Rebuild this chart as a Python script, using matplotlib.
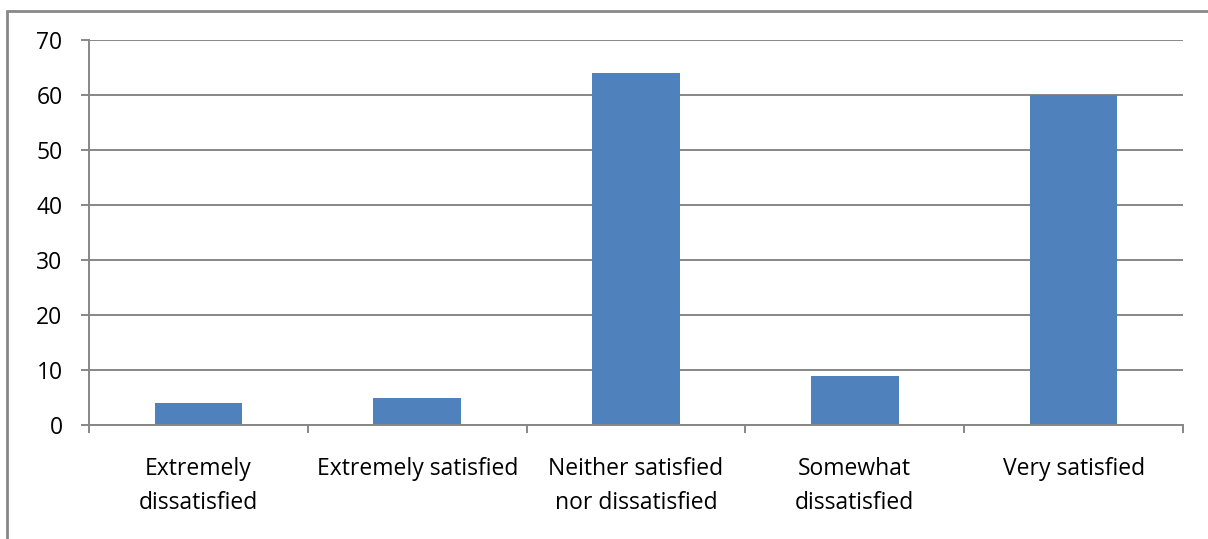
import matplotlib.pyplot as plt
from matplotlib.patches import Rectangle
from matplotlib.ticker import FixedLocator, NullFormatter

categories = ["Extremely\ndissatisfied", "Extremely satisfied",
              "Neither satisfied\nnor dissatisfied", "Somewhat\ndissatisfied",
              "Very satisfied"]
counts = [4, 5, 64, 9, 60]
yticks = [0, 10, 20, 30, 40, 50, 60, 70]

plt.rcParams['font.family'] = ['Open Sans', 'DejaVu Sans']

fig = plt.figure(figsize=(12.08, 5.39), dpi=100)
ax = fig.add_axes([89 / 1208, 1 - 425 / 539, (1183 - 89) / 1208, (425 - 40) / 539])

grid_color = '#878787'
x = list(range(len(categories)))
ax.bar(x, counts, width=0.4, color='#4F81BD', zorder=3)

ax.set_xlim(-0.5, len(categories) - 0.5)
ax.set_ylim(0, 70)
ax.set_yticks(yticks)
ax.yaxis.grid(True, color=grid_color, linewidth=1.4, zorder=0)

# category labels centred on bars, tick marks between categories
ax.set_xticks(x)
ax.set_xticklabels(categories, fontsize=16.5, linespacing=1.55)
ax.tick_params(axis='x', which='major', length=0, pad=23)
ax.xaxis.set_minor_locator(FixedLocator([i - 0.5 for i in range(len(categories) + 1)]))
ax.xaxis.set_minor_formatter(NullFormatter())
ax.tick_params(axis='x', which='minor', length=6, width=1.4, color=grid_color)
ax.tick_params(axis='y', length=6, width=1.4, color=grid_color, labelsize=16.5, pad=13)

for side in ['top', 'right']:
    ax.spines[side].set_visible(False)
for side in ['left', 'bottom']:
    ax.spines[side].set_color(grid_color)
    ax.spines[side].set_linewidth(1.4)
    ax.spines[side].set_zorder(4)

# chart area frame
fig.patches.append(Rectangle((7 / 1208, -0.1), 1.2, 1 - 11 / 539 + 0.1,
                             transform=fig.transFigure, fill=False,
                             edgecolor='#888888', linewidth=2))

fig.savefig('out.png', dpi=100)
